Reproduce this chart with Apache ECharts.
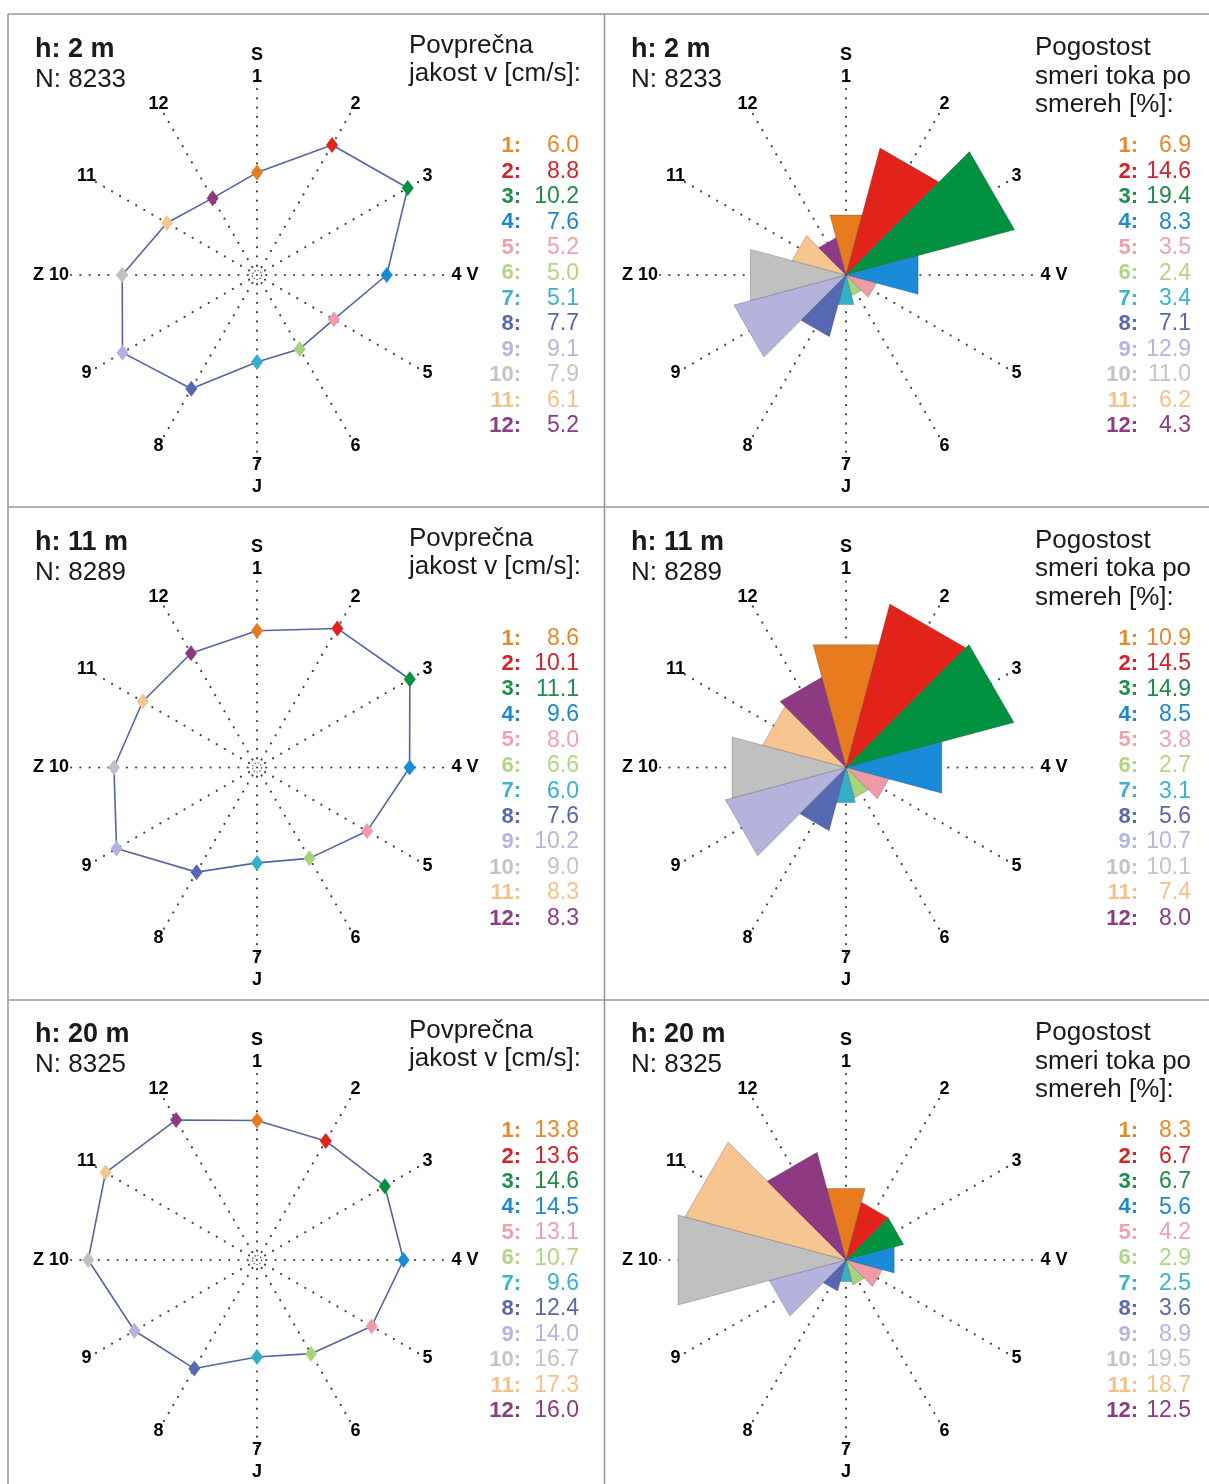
<!DOCTYPE html>
<html><head><meta charset="utf-8">
<script src="https://cdn.jsdelivr.net/npm/echarts@6/dist/echarts.min.js"></script>
<style>html,body{margin:0;padding:0;background:#fff}#c{width:1209px;height:1484px}</style>
</head><body><div id="c"></div>
<script>
// ---------- data ----------
const directions = ['1','2','3','4','5','6','7','8','9','10','11','12'];
const directionAngles = [0,30,60,90,120,150,180,210,240,270,300,330];
const tickLabels = ['S\n1','2','3','4 V','5','6','7\nJ','8','9','Z 10','11','12'];
const heightTitles = ['h: 2 m','h: 11 m','h: 20 m'];
const countTitles = ['N: 8233','N: 8289','N: 8325'];
const speedHeader = ['Povprečna','jakost v [cm/s]:'];
const freqHeader = ['Pogostost','smeri toka po','smereh [%]:'];

const speed2  = [6.0, 8.8, 10.2, 7.6, 5.2, 5.0, 5.1, 7.7, 9.1, 7.9, 6.1, 5.2];
const freq2   = [6.9, 14.6, 19.4, 8.3, 3.5, 2.4, 3.4, 7.1, 12.9, 11.0, 6.2, 4.3];
const speed11 = [8.6, 10.1, 11.1, 9.6, 8.0, 6.6, 6.0, 7.6, 10.2, 9.0, 8.3, 8.3];
const freq11  = [10.9, 14.5, 14.9, 8.5, 3.8, 2.7, 3.1, 5.6, 10.7, 10.1, 7.4, 8.0];
const speed20 = [13.8, 13.6, 14.6, 14.5, 13.1, 10.7, 9.6, 12.4, 14.0, 16.7, 17.3, 16.0];
const freq20  = [8.3, 6.7, 6.7, 5.6, 4.2, 2.9, 2.5, 3.6, 8.9, 19.5, 18.7, 12.5];

const speedSets = [speed2, speed11, speed20];
const freqSets = [freq2, freq11, freq20];

// ---------- style ----------
const FONT = '"Liberation Sans", Arial, Helvetica, sans-serif';
const markColors = ['#E87B1E','#E2231A','#009241','#1A8BD9','#EE9BA6','#A8D37D','#34AFC8','#5568B0','#B3B3DB','#C0C0C0','#F7C58F','#8D3A82'];
const textColors = ['#E58A2C','#D2232A','#1E8C4B','#1F88CC','#EDA3AD','#B2D585','#3BB3C8','#5A69A6','#B6B6DA','#C4C4C4','#F2C28C','#8C3C82'];
const rowDY = [0, 492.5, 985];
const speedMax = [10.9, 11.7, 18.4];
const freqMax = [21.4, 16.5, 21.6];
const R = 186;
const LABEL_R = 197;
// extra label nudges for the compass letters
const labelOffsets = { 0: [0, -12], 90: [11, 0], 180: [0, 4.5], 270: [-9, 0] };

const polar = [], angleAxis = [], radiusAxis = [], series = [], graphics = [];

function addPolar(idx, cx, cy, max) {
  polar.push({ center: [cx, cy], radius: R });
  angleAxis.push({
    polarIndex: idx, type: 'value', min: 0, max: 360, interval: 30,
    startAngle: 90, clockwise: true,
    axisLine: { show: false }, axisTick: { show: false }, axisLabel: { show: false },
    splitLine: { show: true, lineStyle: { color: '#444', width: 2.2, type: [0.1, 9.2], cap: 'round' } }
  });
  radiusAxis.push({ polarIndex: idx, type: 'value', min: 0, max: max, show: false });
  // direction labels placed through the polar scale
  series.push({
    type: 'scatter', coordinateSystem: 'polar', polarIndex: idx, silent: true, clip: false,
    symbol: 'circle', symbolSize: 1, itemStyle: { color: 'rgba(0,0,0,0)' }, z: 5,
    data: directionAngles.map((a, i) => ({
      value: [max * LABEL_R / R, a],
      label: { offset: labelOffsets[a] || [0, 0] }
    })),
    label: {
      show: true, position: 'inside', color: '#000', fontWeight: 'bold', fontSize: 18,
      fontFamily: FONT, lineHeight: 22, align: 'center', verticalAlign: 'middle',
      textBorderWidth: 0, opacity: 1,
      formatter: p => tickLabels[p.dataIndex]
    }
  });
}

function txt(x, y, text, font, color, align) {
  graphics.push({
    type: 'text', x: x, y: y, silent: true,
    style: { text: text, font: font, fill: color, align: align || 'left', textAlign: align || 'left',
             verticalAlign: 'middle', textVerticalAlign: 'middle' }
  });
}

for (let r = 0; r < 3; r++) {
  const dy = rowDY[r];
  const li = r * 2, ri = r * 2 + 1;
  addPolar(li, 257, 275 + dy, speedMax[r]);
  addPolar(ri, 846, 275 + dy, freqMax[r]);

  // left: polygon of mean speeds
  const sp = speedSets[r];
  const pts = sp.map((v, i) => ({ value: [v, directionAngles[i]], itemStyle: { color: markColors[i] } }));
  pts.push({ value: [sp[0], 360], symbol: 'none' });
  series.push({
    type: 'line', coordinateSystem: 'polar', polarIndex: li, data: pts,
    symbol: 'diamond', symbolSize: [12, 16], showSymbol: true,
    lineStyle: { color: '#5466A0', width: 1.6 }, z: 3, silent: true
  });
  series.push({
    type: 'scatter', coordinateSystem: 'polar', polarIndex: li, data: [[0, 0]],
    symbol: 'circle', symbolSize: 9, silent: true, z: 2,
    itemStyle: { color: 'rgba(0,0,0,0)', borderColor: '#333', borderWidth: 1.1, borderType: [1.5, 1.5] }
  });

  // right: frequency wedges
  const fr = freqSets[r];
  series.push({
    type: 'custom', coordinateSystem: 'polar', polarIndex: ri, silent: true, z: 3,
    data: fr.map((v, i) => [v, directionAngles[i]]),
    renderItem: function (params, api) {
      const v = api.value(0), a = api.value(1);
      const rr = v / Math.cos(Math.PI / 12);
      const c = api.coord([0, a]);
      const p1 = api.coord([rr, (a - 15 + 360) % 360]);
      const p2 = api.coord([rr, (a + 15) % 360]);
      return {
        type: 'polygon', shape: { points: [c, p1, p2] },
        style: { fill: markColors[params.dataIndex], stroke: 'rgba(40,40,60,0.35)', lineWidth: 0.7 }
      };
    }
  });

  // titles
  [35, 631].forEach(x => {
    txt(x, 50 + dy, heightTitles[r], 'bold 27px ' + FONT, '#1a1a1a');
    txt(x, 80 + dy, countTitles[r], '26px ' + FONT, '#1a1a1a');
  });
  speedHeader.forEach((t, k) => txt(409, 46 + k * 28 + dy, t, '26px ' + FONT, '#1a1a1a'));
  freqHeader.forEach((t, k) => txt(1035, 48 + k * 28.5 + dy, t, '26px ' + FONT, '#1a1a1a'));

  // legends
  for (let i = 0; i < 12; i++) {
    const y = 146 + 25.45 * i + dy;
    txt(521, y, directions[i] + ':', 'bold 22px ' + FONT, textColors[i], 'right');
    txt(579, y, sp[i].toFixed(1), '23px ' + FONT, textColors[i], 'right');
    txt(1138, y, directions[i] + ':', 'bold 22px ' + FONT, textColors[i], 'right');
    txt(1191, y, fr[i].toFixed(1), '23px ' + FONT, textColors[i], 'right');
  }
}

// panel borders
const B = '#999';
[[8, 14, 1209, 14], [8, 14, 8, 1484], [604.5, 14, 604.5, 1484], [8, 507, 1209, 507], [8, 1000, 1209, 1000]]
  .forEach(s => graphics.push({ type: 'line', silent: true, shape: { x1: s[0], y1: s[1], x2: s[2], y2: s[3] }, style: { stroke: B, lineWidth: 1.6 } }));

const chart = echarts.init(document.getElementById('c'), null, { renderer: 'canvas' });
chart.setOption({
  animation: false,
  backgroundColor: '#fff',
  polar: polar, angleAxis: angleAxis, radiusAxis: radiusAxis,
  series: series,
  graphic: { elements: graphics }
});
</script></body></html>
